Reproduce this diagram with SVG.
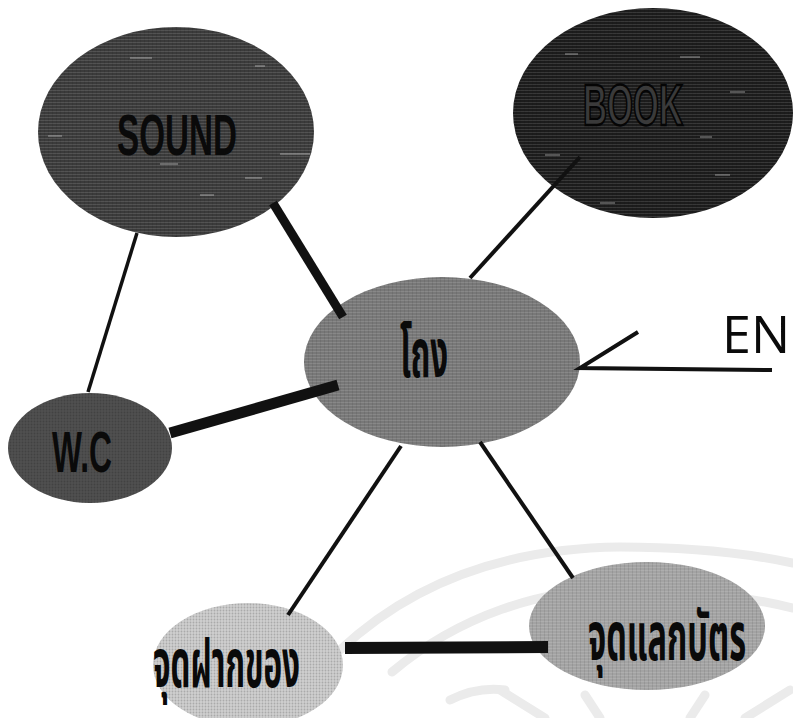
<svg xmlns="http://www.w3.org/2000/svg" width="793" height="718" viewBox="0 0 793 718">
  <defs>
    <pattern id="scan" width="4" height="3" patternUnits="userSpaceOnUse">
      <rect x="0" y="0" width="4" height="1" fill="#ffffff" fill-opacity="0.12"/>
      <rect x="0" y="0" width="1" height="3" fill="#000000" fill-opacity="0.08"/>
    </pattern>
    <pattern id="dots" width="3" height="3" patternUnits="userSpaceOnUse">
      <circle cx="1.5" cy="1.5" r="0.9" fill="#000000" fill-opacity="0.18"/>
    </pattern>
  </defs>
  <style>
    .wm { fill: none; stroke: #ebebeb; stroke-width: 9; stroke-linecap: round; }
    .tex { fill: url(#scan); }
    .dot { fill: url(#dots); }
    .streak { stroke: #ffffff; stroke-opacity: 0.35; stroke-width: 1.5; }
    .en { font-family: "Liberation Sans Narrow", "Liberation Sans", Arial, sans-serif; font-weight: bold; font-size: 58px; }
    .th { font-family: "Noto Sans Thai", "Noto Sans Thai Looped", "Noto Sans", "DejaVu Sans", sans-serif; font-weight: bold; }
    .conn { stroke: #111111; fill: none; stroke-linecap: butt; }
  </style>
  <rect width="793" height="718" fill="#ffffff"/>

  <g id="watermark">
    <path class="wm" d="M 340,650 C 420,575 520,548 620,547 C 700,547 760,556 793,563"/>
    <path class="wm" d="M 392,672 C 460,615 540,590 620,588 C 690,588 750,598 793,608"/>
    <path class="wm" d="M 545,718 L 500,690"/>
    <path class="wm" d="M 600,718 L 585,695"/>
    <path class="wm" d="M 690,718 L 705,695"/>
    <path class="wm" d="M 745,718 L 790,690"/>
    <path class="wm" d="M 450,700 C 470,690 490,688 505,690"/>
  </g>

  <g id="node-sound">
    <ellipse cx="176" cy="132" rx="138" ry="105" fill="#3b3b3b"/>
    <ellipse class="tex" cx="176" cy="132" rx="138" ry="105"/>
    <g class="streak">
      <line x1="130" y1="58" x2="152" y2="58"/>
      <line x1="255" y1="66" x2="265" y2="66"/>
      <line x1="280" y1="154" x2="310" y2="154"/>
      <line x1="48" y1="136" x2="62" y2="136"/>
      <line x1="160" y1="164" x2="178" y2="164"/>
      <line x1="200" y1="195" x2="214" y2="195"/>
      <line x1="245" y1="178" x2="262" y2="178"/>
    </g>
    <text class="en" x="117" y="155" textLength="120" lengthAdjust="spacingAndGlyphs" fill="#0a0a0a">SOUND</text>
  </g>

  <g id="node-book">
    <ellipse cx="653" cy="113" rx="140" ry="105" fill="#1c1c1c"/>
    <ellipse class="tex" cx="653" cy="113" rx="140" ry="105"/>
    <g class="streak">
      <line x1="565" y1="54" x2="578" y2="54"/>
      <line x1="680" y1="57" x2="700" y2="57"/>
      <line x1="730" y1="92" x2="745" y2="92"/>
      <line x1="545" y1="155" x2="560" y2="155"/>
      <line x1="700" y1="137" x2="712" y2="137"/>
      <line x1="715" y1="175" x2="730" y2="175"/>
      <line x1="600" y1="203" x2="615" y2="203"/>
    </g>
    <text class="en" x="583" y="125" textLength="100" lengthAdjust="spacingAndGlyphs" fill="#3a3a3a" stroke="#050505" stroke-width="2.5">BOOK</text>
  </g>

  <g id="node-hall">
    <ellipse cx="442" cy="362" rx="138" ry="85" fill="#787878"/>
    <ellipse class="tex" cx="442" cy="362" rx="138" ry="85"/>
    <text class="th" x="400" y="377" font-size="68" textLength="48" lengthAdjust="spacingAndGlyphs" fill="#0a0a0a">โถง</text>
  </g>

  <g id="node-wc">
    <ellipse cx="90" cy="448" rx="82" ry="55" fill="#505050"/>
    <ellipse class="dot" cx="90" cy="448" rx="82" ry="55"/>
    <text class="en" x="52" y="472" font-size="56" textLength="60" lengthAdjust="spacingAndGlyphs" fill="#0a0a0a">W.C</text>
  </g>

  <g id="node-fak">
    <ellipse cx="248" cy="665" rx="95" ry="62" fill="#cfcfcf"/>
    <ellipse class="dot" cx="248" cy="665" rx="95" ry="62"/>
    <text class="th" x="153" y="687" font-size="68" textLength="147" lengthAdjust="spacingAndGlyphs" fill="#0a0a0a">จุดฝากของ</text>
  </g>

  <g id="node-laek">
    <ellipse cx="647" cy="626" rx="118" ry="64" fill="#a3a3a3"/>
    <ellipse class="tex" cx="647" cy="626" rx="118" ry="64"/>
    <text class="th" transform="translate(588,660) scale(0.5,1)" x="0" y="0" font-size="68" textLength="316" lengthAdjust="spacingAndGlyphs" fill="#0a0a0a">จุดแลกบัตร</text>
  </g>

  <g id="connectors">
    <line class="conn" x1="137" y1="233" x2="88" y2="392" stroke-width="3.5"/>
    <line class="conn" x1="273" y1="203" x2="343" y2="317" stroke-width="9"/>
    <line class="conn" x1="170" y1="433" x2="338" y2="385" stroke-width="11"/>
    <line class="conn" x1="580" y1="157" x2="470" y2="278" stroke-width="4"/>
    <line class="conn" x1="401" y1="446" x2="288" y2="615" stroke-width="4"/>
    <line class="conn" x1="480" y1="442" x2="573" y2="578" stroke-width="4"/>
    <line class="conn" x1="345" y1="648" x2="548" y2="647" stroke-width="12"/>
    <polyline class="conn" points="638,332 580,368 772,370" stroke-width="4"/>
  </g>

  <g id="label-entrance">
    <text x="722" y="353" font-family="'Open Sans', 'Liberation Sans', sans-serif" font-size="52" fill="#0a0a0a">EN</text>
  </g>
</svg>
